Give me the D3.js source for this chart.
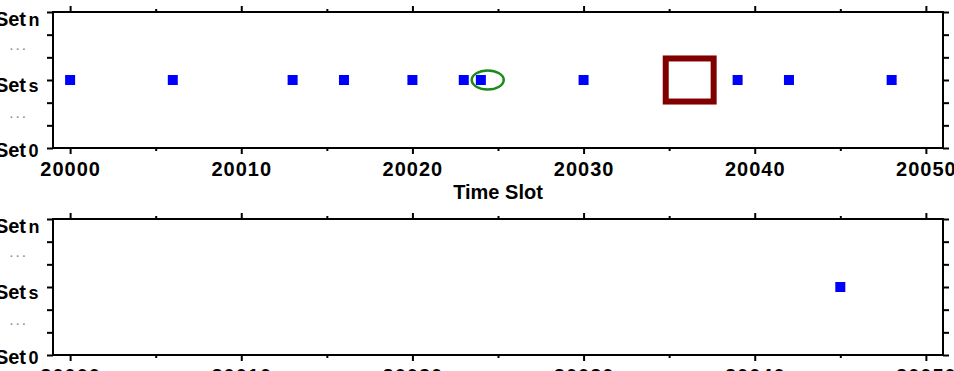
<!doctype html>
<html>
<head>
<meta charset="utf-8">
<title>Time Slot sets</title>
<style>
* {padding:0;margin:0}
body {background:#fff; width:954px; height:371px; overflow:hidden}
text {font-family:"Liberation Sans", Arial, sans-serif; font-weight:bold}
</style>
</head>
<body>
<div id="chart"></div>
<script src="https://d3js.org/d3.v7.min.js"></script>
<script>
// data
const xDomain = [19999, 20051];
const majorTicks = [20000, 20010, 20020, 20030, 20040, 20050];
const minorTicks = [20005, 20015, 20025, 20035, 20045];
const yLevels = [0, 1, 2, 3, 4, 5, 6];
const setNames = ["0", "s", "n"];
const setLevels = [0, 3, 6];
const dotLevels = [1.5, 4.5];
const topSlots = [20000, 20006, 20013, 20016, 20020, 20023, 20024, 20030, 20039, 20042, 20048];
const bottomSlots = [20045];
const slotLevel = 3;
const circled = [20024.4, 3];
const boxed = [20034.8, 20037.6, 2.05, 3.95];

const W = 954, H = 371;
const svg = d3.select("#chart").append("svg").attr("width", W).attr("height", H);

const x = d3.scaleLinear().domain(xDomain).range([53, 943]);

function panel(top, slots, showTitle) {
	const y = d3.scaleLinear().domain([0, 6]).range([top + 136, top]);
	const g = svg.append("g");

	// ticks, outward on all four sides
	const axes = [
		[d3.axisBottom(x).tickValues(majorTicks).tickSize(6), top + 136, true],
		[d3.axisBottom(x).tickValues(minorTicks).tickSize(3), top + 136, false],
		[d3.axisTop(x).tickValues(majorTicks).tickSize(6), top, false],
		[d3.axisTop(x).tickValues(minorTicks).tickSize(3), top, false]
	];
	axes.forEach(function(a) {
		const ax = g.append("g").attr("transform", "translate(0," + a[1] + ")")
			.call(a[0].tickFormat(a[2] ? d3.format("d") : ""));
		ax.select(".domain").remove();
		ax.selectAll("line").attr("stroke", "#000").attr("stroke-width", 2);
		ax.selectAll("text").attr("fill", "#000").attr("font-size", 20)
			.attr("letter-spacing", 1).attr("y", 14).attr("dy", "0.71em");
	});
	const yl = g.append("g").attr("transform", "translate(53,0)")
		.call(d3.axisLeft(y).tickValues(yLevels).tickSize(6).tickFormat(""));
	const yr = g.append("g").attr("transform", "translate(943,0)")
		.call(d3.axisRight(y).tickValues(yLevels).tickSize(6).tickFormat(""));
	[yl, yr].forEach(function(ax) {
		ax.select(".domain").remove();
		ax.selectAll("line").attr("stroke", "#000").attr("stroke-width", 2);
	});

	g.append("rect")
		.attr("x", x(xDomain[0])).attr("y", y(6))
		.attr("width", x(xDomain[1]) - x(xDomain[0])).attr("height", y(0) - y(6))
		.attr("fill", "none").attr("stroke", "#000").attr("stroke-width", 2);

	// y labels
	setNames.forEach(function(n, i) {
		const lv = setLevels[i];
		const base = y(lv) + 9 + lv / 6 * 5;
		g.append("text").attr("x", 26).attr("y", base).attr("text-anchor", "end")
			.attr("font-size", 20).attr("fill", "#000").text("Set");
		g.append("text").attr("x", 28.5).attr("y", base)
			.attr("font-size", 18).attr("fill", "#000").text(n);
	});
	dotLevels.forEach(function(lv) {
		g.append("text").attr("x", 10).attr("y", y(lv) + 4)
			.attr("font-size", 10).attr("font-weight", "normal").attr("letter-spacing", 3.5)
			.attr("fill", "#888").text("...");
	});

	g.selectAll("rect.pt").data(slots).enter().append("rect")
		.attr("class", "pt")
		.attr("x", function(d) { return x(d) - 5; })
		.attr("y", y(slotLevel) - 5)
		.attr("width", 10).attr("height", 10)
		.attr("fill", "#0000ff");

	if (showTitle) {
		g.append("text").attr("x", (x(xDomain[0]) + x(xDomain[1])) / 2).attr("y", 199)
			.attr("text-anchor", "middle").attr("font-size", 20).attr("fill", "#000")
			.text("Time Slot");
	}
	return y;
}

const yTop = panel(12, topSlots, true);
panel(219, bottomSlots, false);

svg.append("ellipse")
	.attr("cx", x(circled[0])).attr("cy", yTop(circled[1]))
	.attr("rx", 16).attr("ry", 9.5)
	.attr("fill", "none").attr("stroke", "#1a8a1a").attr("stroke-width", 2.5);

svg.append("rect")
	.attr("x", x(boxed[0])).attr("y", yTop(boxed[3]))
	.attr("width", x(boxed[1]) - x(boxed[0])).attr("height", yTop(boxed[2]) - yTop(boxed[3]))
	.attr("fill", "none").attr("stroke", "#800000").attr("stroke-width", 6);
</script>
</body>
</html>
